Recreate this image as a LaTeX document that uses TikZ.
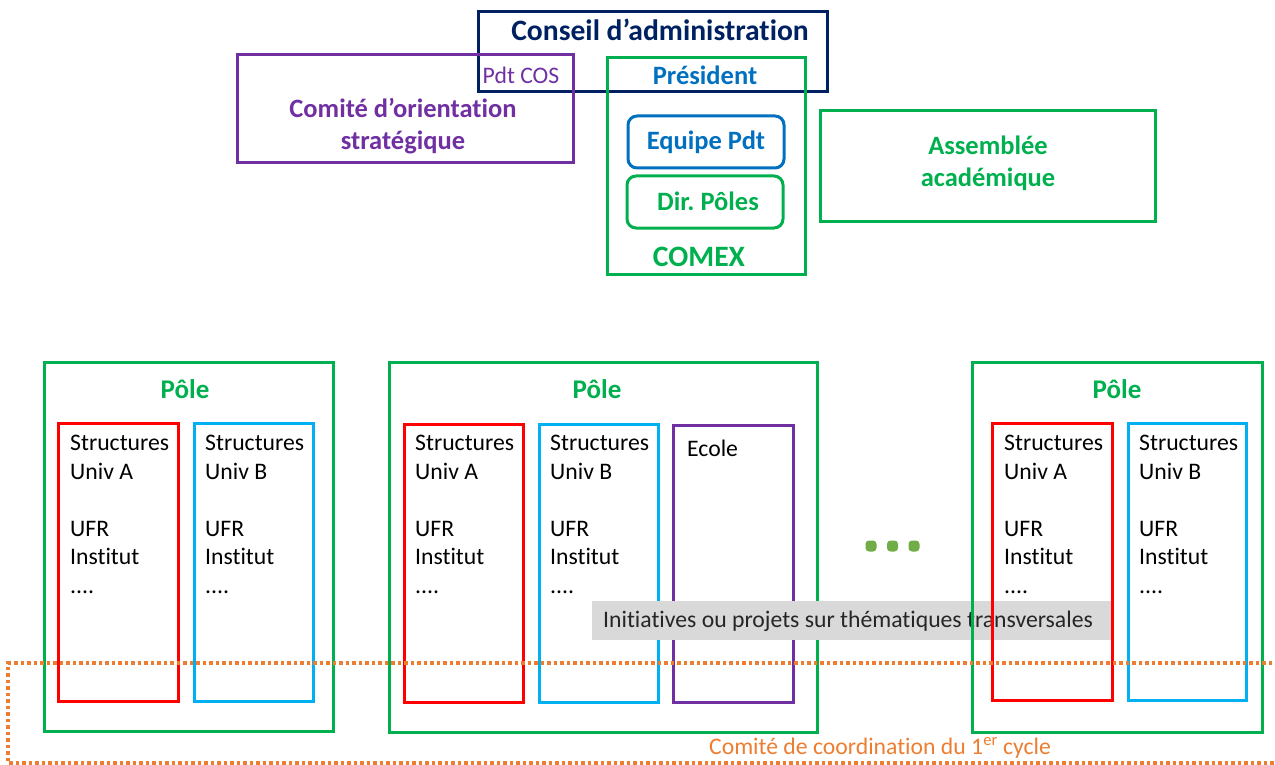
\documentclass[tikz,border=0pt]{standalone}
\usepackage{fontspec}
\setmainfont{Carlito}[Ligatures=NoCommon]
\usepackage{tikz}
\frenchspacing

\begin{document}
\begin{tikzpicture}[x=1pt,y=-1pt,
  box/.style={draw,line width=3pt,inner sep=0,minimum width=#1},
  roundbox/.style={box=#1,rounded corners=9pt},
  title/.style={font=\bfseries\fontsize{27}{32}\selectfont,inner sep=0},
  subtitle/.style={title,font=\bfseries\fontsize{26.5}{32}\selectfont},
  plain/.style={font=\fontsize{23.7}{28.5}\selectfont,inner sep=0},
  liste/.style={plain,align=left,anchor=north west},
  dot/.style={fill=mycolor70AD47,inner sep=0,minimum size=11pt,rounded corners=3.5pt}]
\definecolor{mycolor002060}{rgb}{0,0.13,0.38}
\definecolor{mycolor7030A0}{rgb}{0.44,0.19,0.63}
\definecolor{mycolor00B050}{rgb}{0,0.69,0.31}
\definecolor{mycolor0070C0}{rgb}{0,0.44,0.75}
\definecolor{mycolorFF0000}{rgb}{1,0,0}
\definecolor{mycolor00B0F0}{rgb}{0,0.69,0.94}
\definecolor{mycolorD9D9D9}{rgb}{0.85,0.85,0.85}
\definecolor{mycolorED7D31}{rgb}{0.93,0.49,0.19}
\definecolor{mycolor70AD47}{rgb}{0.44,0.68,0.28}
\definecolor{mycolor262626}{rgb}{0.15,0.15,0.15}
\useasboundingbox (0,0) rectangle (1275,765);
\begin{scope}
% gouvernance
\node (ca) at (652.5,52) [box=349pt,minimum height=80pt,draw=mycolor002060] {};
\node (caT) at (660,30) [title,text=mycolor002060,font=\bfseries\fontsize{29.6}{34}\selectfont] {Conseil d’administration};
\node (cos) at (405,109) [box=336pt,minimum height=108pt,draw=mycolor7030A0] {};
\node (cosP) at (521,75) [plain,text=mycolor7030A0] {Pdt COS};
\node (cosT) at (403,126) [subtitle,text=mycolor7030A0,align=center] {Comité d’orientation\\stratégique};
\node (comex) at (706,166) [box=198pt,minimum height=216pt,draw=mycolor00B050] {};
\node (pdt) at (705,75) [subtitle,text=mycolor0070C0] {Président};
\node (eqp) at (706,142) [roundbox=156pt,minimum height=52pt,draw=mycolor0070C0] {};
\node (eqpT) at (eqp) [subtitle,text=mycolor0070C0] {Equipe Pdt};
\node (dirp) at (705,202) [roundbox=156pt,minimum height=52pt,draw=mycolor00B050] {};
\node (dirpT) at (708,201) [subtitle,text=mycolor00B050] {Dir. Pôles};
\node (comexT) at (699,257) [title,text=mycolor00B050,font=\bfseries\fontsize{29.6}{34}\selectfont] {COMEX};
\node (aa) at (987.5,166) [box=335pt,minimum height=110pt,draw=mycolor00B050] {};
\node (aaT) at (988,163) [subtitle,text=mycolor00B050,align=center] {Assemblée\\académique};
\end{scope}
\begin{scope}
% pole 1
\node (pole1) at (188.5,546.5) [box=289pt,minimum height=369pt,draw=mycolor00B050] {};
\node (pole1T) at (185,389) [title,text=mycolor00B050] {Pôle};
\node (p1a) at (118,562) [box=120pt,minimum height=278pt,draw=mycolorFF0000] {};
\node (p1aT) at (70,435) [liste] {Structures\\Univ A\\[28.5pt]UFR\\Institut\\....};
\node (p1b) at (253.5,562) [box=119pt,minimum height=278pt,draw=mycolor00B0F0] {};
\node (p1bT) at (205,435) [liste] {Structures\\Univ B\\[28.5pt]UFR\\Institut\\....};
\end{scope}
\begin{scope}
% pole 2
\node (pole2) at (603,547) [box=428pt,minimum height=370pt,draw=mycolor00B050] {};
\node (pole2T) at (597,389) [title,text=mycolor00B050] {Pôle};
\node (p2a) at (463.5,563) [box=119pt,minimum height=278pt,draw=mycolorFF0000] {};
\node (p2aT) at (415,435) [liste] {Structures\\Univ A\\[28.5pt]UFR\\Institut\\....};
\node (p2b) at (598.5,563) [box=119pt,minimum height=278pt,draw=mycolor00B0F0] {};
\node (p2bT) at (550,435) [liste] {Structures\\Univ B\\[28.5pt]UFR\\Institut\\....};
\node (p2e) at (733,563.5) [box=120pt,minimum height=277pt,draw=mycolor7030A0] {};
\node (p2eT) at (687,440) [liste] {Ecole};
\end{scope}
\node (transv) at (852.5,620.5) [fill=mycolorD9D9D9,minimum width=521pt,minimum height=39pt,inner sep=0] {};
\node (transvT) at (603,621) [plain,anchor=west,text=mycolor262626] {Initiatives ou projets sur thématiques transversales};
\begin{scope}
% pole 3
\node (pole3) at (1117,547) [box=290pt,minimum height=370pt,draw=mycolor00B050] {};
\node (pole3T) at (1117,389) [title,text=mycolor00B050] {Pôle};
\node (p3a) at (1052,561.5) [box=120pt,minimum height=277pt,draw=mycolorFF0000] {};
\node (p3aT) at (1004,435) [liste] {Structures\\Univ A\\[28.5pt]UFR\\Institut\\....};
\node (p3b) at (1187,561.5) [box=118pt,minimum height=277pt,draw=mycolor00B0F0] {};
\node (p3bT) at (1139,435) [liste] {Structures\\Univ B\\[28.5pt]UFR\\Institut\\....};
\end{scope}
\node (dot1) at (871,546) [dot] {};
\node (dot2) at (892.5,546) [dot] {};
\node (dot3) at (914,546) [dot] {};
\begin{scope}
% premier cycle
\draw [draw=mycolorED7D31,line width=3.5pt,dash pattern=on 3.5pt off 3pt] (1285,663) -- (8,663) -- (8,763) -- (1285,763);
\node (cycle) at (880,748) [plain,text=mycolorED7D31] {Comité de coordination du 1\textsuperscript{er} cycle};
\end{scope}
\end{tikzpicture}
\end{document}
